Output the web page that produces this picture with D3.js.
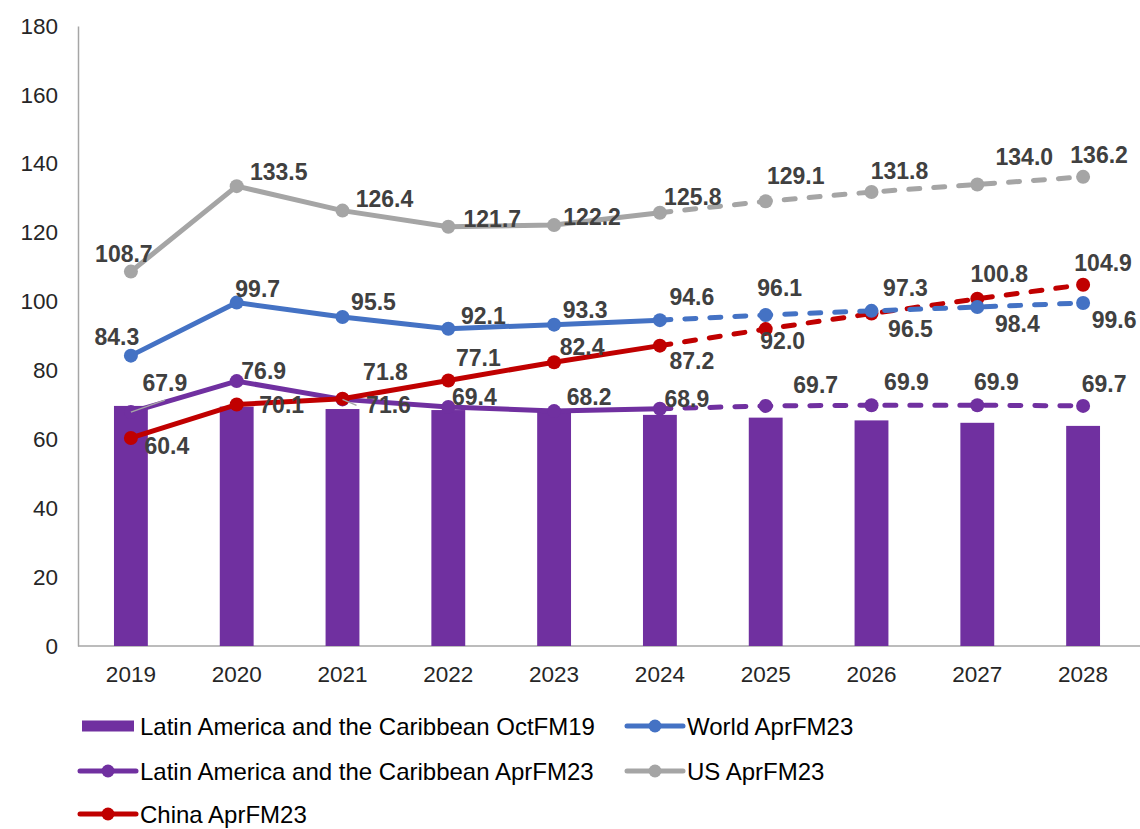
<!DOCTYPE html>
<html>
<head>
<meta charset="utf-8">
<script src="https://cdn.jsdelivr.net/npm/d3@7"></script>
<style>
  body { margin: 0; background: #fff; }
  svg { display: block; font-family: "Liberation Sans", Arial, sans-serif; }
</style>
</head>
<body>
<div id="chart"></div>
<script>
const years = ['2019','2020','2021','2022','2023','2024','2025','2026','2027','2028'];
const lacOct19 = [69.7, 69.5, 68.8, 68.5, 68.4, 67.1, 66.3, 65.5, 64.8, 63.9];
const lacApr23 = [67.9, 76.9, 71.6, 69.4, 68.2, 68.9, 69.7, 69.9, 69.9, 69.7];
const chinaApr23 = [60.4, 70.1, 71.8, 77.1, 82.4, 87.2, 92.0, 96.5, 100.8, 104.9];
const worldApr23 = [84.3, 99.7, 95.5, 92.1, 93.3, 94.6, 96.1, 97.3, 98.4, 99.6];
const usApr23 = [108.7, 133.5, 126.4, 121.7, 122.2, 125.8, 129.1, 131.8, 134.0, 136.2];
const yTicks = [0, 20, 40, 60, 80, 100, 120, 140, 160, 180];
const lastActual = '2024';

// label placement (offset of label centre from its point), tuned by eye
const labelOffsets = {
  lac:   [[34,-29],[27,-10],[46,6],[26,-10],[35,-14],[27,-10],[50,-21],[35,-23],[19,-23],[21,-22]],
  china: [[36,8],[45,0],[43,-27],[30,-22],[28,-15],[32,15],[17,12],[39,15],[22,-25],[20,-22]],
  world: [[-14,-19],[21,-14],[31,-15],[35,-13],[31,-15],[32,-23],[14,-27],[34,-23],[40,17],[31,17]],
  us:    [[-7,-18],[42,-14],[42,-12],[44,-8],[38,-8],[33,-16],[30,-25],[28,-21],[47,-27],[16,-22]]
};

const series = [
  { key: 'lac',   name: 'Latin America and the Caribbean AprFM23', values: lacApr23,   color: '#7030A0' },
  { key: 'china', name: 'China AprFM23', values: chinaApr23, color: '#C00000' },
  { key: 'world', name: 'World AprFM23', values: worldApr23, color: '#4472C4' },
  { key: 'us',    name: 'US AprFM23',    values: usApr23,    color: '#A5A5A5' }
];

const width = 1140, height = 829;
const svg = d3.select('#chart').append('svg')
  .attr('width', width)
  .attr('height', height);

const x = d3.scaleBand()
  .domain(years)
  .range([78, 1136])
  .paddingInner(0.68)
  .paddingOuter(0.34);
const y = d3.scaleLinear().domain([0, 180]).range([646, 26]);
const cx = d => x(d) + x.bandwidth() / 2;

// axes
const yAxis = svg.append('g')
  .attr('transform', 'translate(78,0)')
  .call(d3.axisLeft(y).tickValues(yTicks).tickSize(0).tickPadding(20));
yAxis.select('.domain').attr('stroke', '#A6A6A6').attr('stroke-width', 1.5);
yAxis.selectAll('text')
  .style('font-size', '22.5px')
  .style('font-family', '"Liberation Sans", Arial, sans-serif')
  .attr('fill', '#262626');

const xAxis = svg.append('g')
  .attr('transform', 'translate(0,646)')
  .call(d3.axisBottom(x).tickSize(0).tickPadding(20).tickSizeOuter(0));
xAxis.select('.domain').attr('stroke', '#A6A6A6').attr('stroke-width', 1.5)
  .attr('d', 'M78,0H1140');
xAxis.selectAll('text')
  .style('font-size', '22.5px')
  .style('font-family', '"Liberation Sans", Arial, sans-serif')
  .attr('fill', '#262626');

// bars
svg.append('g').selectAll('rect')
  .data(years.map((yr, i) => ({ yr, v: lacOct19[i] })))
  .join('rect')
    .attr('x', d => x(d.yr))
    .attr('width', x.bandwidth())
    .attr('y', d => y(d.v))
    .attr('height', d => y(0) - y(d.v))
    .attr('fill', '#7030A0');

// leader lines for two displaced labels
const leaders = [
  { s: 'lac', i: 0 }, { s: 'lac', i: 2 }
];
const line = d3.line().x(d => cx(d.yr)).y(d => y(d.v));
const cut = years.indexOf(lastActual);

series.forEach(s => {
  const pts = years.map((yr, i) => ({ yr, v: s.values[i] }));
  const g = svg.append('g');
  g.append('path')
    .datum(pts.slice(0, cut + 1))
    .attr('d', line)
    .attr('fill', 'none')
    .attr('stroke', s.color)
    .attr('stroke-width', 5)
    .attr('stroke-linejoin', 'round');
  g.append('path')
    .datum(pts.slice(cut))
    .attr('d', line)
    .attr('fill', 'none')
    .attr('stroke', s.color)
    .attr('stroke-width', 5)
    .attr('stroke-linecap', 'round')
    .attr('stroke-dasharray', '11 14');
  g.selectAll('circle')
    .data(pts)
    .join('circle')
      .attr('cx', d => cx(d.yr))
      .attr('cy', d => y(d.v))
      .attr('r', 7)
      .attr('fill', s.color);
});

leaders.forEach(l => {
  const s = series.find(d => d.key === l.s);
  const px = cx(years[l.i]), py = y(s.values[l.i]);
  const o = labelOffsets[l.s][l.i];
  svg.append('line')
    .attr('x1', px).attr('y1', py)
    .attr('x2', px + o[0] - (l.i === 0 ? 0 : 32)).attr('y2', py + o[1] + (l.i === 0 ? 17 : 0))
    .attr('stroke', '#A6A6A6')
    .attr('stroke-width', 1.5);
});

// data labels
series.forEach(s => {
  svg.append('g').selectAll('text')
    .data(s.values)
    .join('text')
      .attr('x', (v, i) => cx(years[i]) + labelOffsets[s.key][i][0])
      .attr('y', (v, i) => y(v) + labelOffsets[s.key][i][1])
      .attr('text-anchor', 'middle')
      .attr('dominant-baseline', 'central')
      .attr('fill', '#404040')
      .style('font-size', '23px')
      .style('font-weight', 'bold')
      .text(v => v.toFixed(1));
});

// legend
const legendItems = [
  { name: 'Latin America and the Caribbean OctFM19', color: '#7030A0', bar: true, x: 80, y: 726 },
  { name: 'World AprFM23', color: '#4472C4', x: 627, y: 726 },
  { name: 'Latin America and the Caribbean AprFM23', color: '#7030A0', x: 80, y: 771 },
  { name: 'US AprFM23', color: '#A5A5A5', x: 627, y: 771 },
  { name: 'China AprFM23', color: '#C00000', x: 80, y: 814 }
];
const legend = svg.append('g').selectAll('g')
  .data(legendItems)
  .join('g')
    .attr('transform', d => `translate(${d.x},${d.y})`);
legend.filter(d => d.bar).append('rect')
  .attr('x', 2).attr('y', -5.5).attr('width', 52).attr('height', 11)
  .attr('fill', d => d.color);
legend.filter(d => !d.bar).append('line')
  .attr('x1', 0).attr('x2', 56)
  .attr('stroke', d => d.color)
  .attr('stroke-width', 5)
  .attr('stroke-linecap', 'round');
legend.filter(d => !d.bar).append('circle')
  .attr('cx', 28).attr('r', 6.5)
  .attr('fill', d => d.color);
legend.append('text')
  .attr('x', 60)
  .attr('dominant-baseline', 'central')
  .attr('fill', '#000')
  .style('font-size', '24px')
  .text(d => d.name);
</script>
</body>
</html>
